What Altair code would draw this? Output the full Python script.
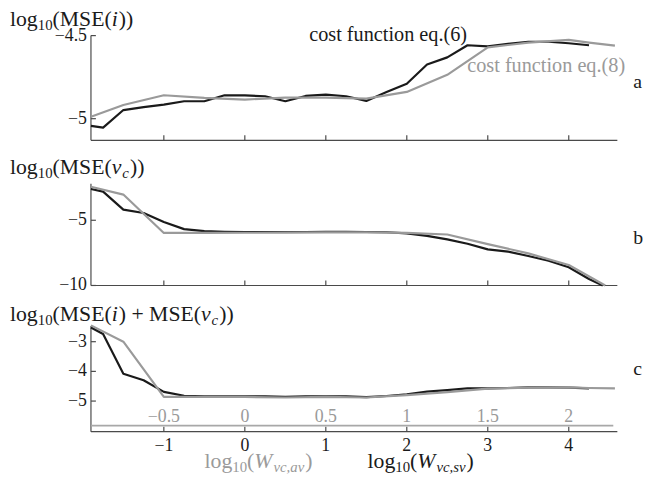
import altair as alt
import pandas as pd

FONT = "Liberation Serif"
BLACK = "#1a1a1a"
GRAY = "#9a9a9a"
AXIS = "#4a4a4a"

# ---------------- data ----------------
X_LO, X_HI = -1.9, 4.6

X_BLACK = [-1.9, -1.75, -1.5, -1.25, -1.0, -0.75, -0.5, -0.25, 0.0, 0.25, 0.5, 0.75, 1.0,
           1.25, 1.5, 1.75, 2.0, 2.25, 2.5, 2.75, 3.0, 3.25, 3.5, 3.75, 4.0, 4.25]
X_GRAY = [-1.9, -1.5, -1.0, -0.5, 0.0, 0.5, 1.0, 1.5, 2.0, 2.5, 3.0, 3.5, 4.0, 4.25, 4.57]
X_BLACK_B = X_BLACK + [4.42]
X_GRAY_B = [-1.9, -1.5, -1.0, -0.5, 0.0, 0.5, 1.0, 1.5, 2.0, 2.5, 3.0, 3.5, 4.0, 4.45]

# panel a: log10(MSE(i))
A_BLACK = [-5.043, -5.054, -4.948, -4.930, -4.915, -4.895, -4.895, -4.859, -4.860, -4.865,
           -4.895, -4.863, -4.855, -4.865, -4.893, -4.840, -4.790, -4.674, -4.631, -4.558,
           -4.565, -4.550, -4.537, -4.537, -4.546, -4.558]
A_GRAY = [-4.988, -4.918, -4.859, -4.875, -4.885, -4.873, -4.873, -4.879, -4.839, -4.736,
          -4.571, -4.542, -4.526, -4.542, -4.560]

# panel b: log10(MSE(vc))
B_BLACK = [-2.60, -2.80, -4.18, -4.44, -5.13, -5.68, -5.83, -5.88, -5.90, -5.90, -5.90,
           -5.90, -5.88, -5.88, -5.90, -5.92, -6.00, -6.20, -6.47, -6.80, -7.23, -7.40,
           -7.74, -8.10, -8.60, -9.50, -10.0]
B_GRAY = [-2.43, -3.03, -5.97, -5.97, -5.96, -5.95, -5.93, -5.93, -5.97, -6.09, -6.83,
          -7.54, -8.43, -10.0]

# panel c: log10(MSE(i) + MSE(vc))
C_BLACK = [-2.52, -2.74, -4.08, -4.30, -4.69, -4.82, -4.84, -4.84, -4.84, -4.84, -4.86,
           -4.84, -4.84, -4.84, -4.87, -4.83, -4.77, -4.68, -4.63, -4.57, -4.57, -4.56,
           -4.54, -4.54, -4.55, -4.57]
C_GRAY = [-2.45, -3.00, -4.86, -4.86, -4.86, -4.88, -4.86, -4.88, -4.80, -4.70, -4.58,
          -4.55, -4.54, -4.56, -4.57]

TICKS_SV = [-1, 0, 1, 2, 3, 4]
TICKS_AV = [-0.5, 0, 0.5, 1, 1.5, 2]
YT_A = [-5, -4.5]
YT_B = [-10, -5]
YT_C = [-5, -4, -3]

# ---------------- layout ----------------
W, H = 533, 401
XS = alt.Scale(domain=[X_LO, X_HI], nice=False, zero=False)

PANELS = {
    "a": dict(dom=[-5.13, -4.5], rng=[106, 0], top=-4.5),
    "b": dict(dom=[-10.0, -2.2], rng=[253, 150], top=-2.2),
    "c": dict(dom=[-6.03, -2.47], rng=[401, 294], top=-2.47),
}

REG = {'l': 278, 'o': 500, 'g': 500, '(': 333, ')': 333, 'M': 889, 'S': 556, 'E': 611,
       '+': 564, ' ': 250, '0': 500, '1': 500}
ITA = {'i': 278, 'v': 444, 'c': 444, 'W': 833, 'a': 500, 's': 389, ',': 250}


def twidth(s, size, ital):
    tab = ITA if ital else REG
    return sum(tab.get(ch, 500) for ch in s) * size / 1000.0


def rich(segs, x0, y0, color):
    out = []
    x = x0
    for txt, size, ital, dy in segs:
        out.append(
            alt.Chart(pd.DataFrame({"t": [txt]}))
            .mark_text(align="left", baseline="alphabetic", font=FONT, fontSize=size,
                       fontStyle="italic" if ital else "normal", color=color)
            .encode(x=alt.value(x), y=alt.value(y0 + dy), text="t:N")
        )
        x += twidth(txt, size, ital) + (1.0 if ital else 0.0)
    return out


def fmt(v):
    return f"{v:g}".replace("-", "\u2212")


def yscale(p):
    return alt.Scale(domain=p["dom"], range=p["rng"], nice=False, zero=False)


def line(xs, ys, p, color, width):
    df = pd.DataFrame({"x": xs, "y": ys})
    return alt.Chart(df).mark_line(color=color, strokeWidth=width, strokeJoin="round").encode(
        x=alt.X("x:Q", scale=XS, axis=None),
        y=alt.Y("y:Q", scale=yscale(p), axis=None),
    )


def frame(p, yticks):
    ys = yscale(p)
    bottom_px = p["rng"][0]
    layers = []
    # y axis line
    layers.append(
        alt.Chart(pd.DataFrame({"lo": [p["dom"][0]], "hi": [p["top"]]}))
        .mark_rule(color=AXIS, strokeWidth=1.2)
        .encode(x=alt.value(0), y=alt.Y("lo:Q", scale=ys, axis=None), y2="hi:Q")
    )
    # x axis line
    layers.append(
        alt.Chart(pd.DataFrame({"xlo": [X_LO], "xhi": [X_HI], "lo": [p["dom"][0]]}))
        .mark_rule(color=AXIS, strokeWidth=1.2)
        .encode(x=alt.X("xlo:Q", scale=XS, axis=None), x2="xhi:Q",
                y=alt.Y("lo:Q", scale=ys, axis=None))
    )
    # x ticks (inward)
    layers.append(
        alt.Chart(pd.DataFrame({"t": TICKS_SV}))
        .mark_rule(color=AXIS, strokeWidth=1.2)
        .encode(x=alt.X("t:Q", scale=XS, axis=None),
                y=alt.value(bottom_px), y2=alt.value(bottom_px - 5))
    )
    # y ticks (inward)
    layers.append(
        alt.Chart(pd.DataFrame({"v": yticks}))
        .mark_rule(color=AXIS, strokeWidth=1.2)
        .encode(x=alt.value(0), x2=alt.value(5), y=alt.Y("v:Q", scale=ys, axis=None))
    )
    # y tick labels
    layers.append(
        alt.Chart(pd.DataFrame({"v": yticks, "lab": [fmt(v) for v in yticks]}))
        .mark_text(align="right", baseline="middle", font=FONT, fontSize=18, color=BLACK)
        .encode(x=alt.value(-4), y=alt.Y("v:Q", scale=ys, axis=None), text="lab:N")
    )
    return layers


layers = []
for key, bx, by, gx, gy, yt in [
    ("a", X_BLACK, A_BLACK, X_GRAY, A_GRAY, YT_A),
    ("b", X_BLACK_B, B_BLACK, X_GRAY_B, B_GRAY, YT_B),
    ("c", X_BLACK, C_BLACK, X_GRAY, C_GRAY, YT_C),
]:
    p = PANELS[key]
    layers += frame(p, yt)
    layers.append(line(bx, by, p, BLACK, 2.2))
    layers.append(line(gx, gy, p, GRAY, 2.2))

# secondary (gray) x axis in panel c: log10(W_vc,av) = log10(W_vc,sv) / 2
layers.append(
    alt.Chart(pd.DataFrame({"xlo": [X_LO], "xhi": [4.55]}))
    .mark_rule(color="#a8a8a8", strokeWidth=1.8)
    .encode(x=alt.X("xlo:Q", scale=XS, axis=None), x2="xhi:Q", y=alt.value(395))
)
layers.append(
    alt.Chart(pd.DataFrame({"pos": [2 * a for a in TICKS_AV], "lab": [fmt(a) for a in TICKS_AV]}))
    .mark_text(align="center", baseline="alphabetic", font=FONT, fontSize=18, color=GRAY)
    .encode(x=alt.X("pos:Q", scale=XS, axis=None), y=alt.value(391), text="lab:N")
)
# black x tick labels
layers.append(
    alt.Chart(pd.DataFrame({"t": TICKS_SV, "lab": [fmt(t) for t in TICKS_SV]}))
    .mark_text(align="center", baseline="alphabetic", font=FONT, fontSize=18, color=BLACK)
    .encode(x=alt.X("t:Q", scale=XS, axis=None), y=alt.value(421), text="lab:N")
)

# titles
T, S = 22, 15
layers += rich([("log", T, False, 0), ("10", S, False, 4), ("(MSE(", T, False, 0),
                ("i", T, True, 0), ("))", T, False, 0)], -82, -10, BLACK)
layers += rich([("log", T, False, 0), ("10", S, False, 4), ("(MSE(", T, False, 0),
                ("v", T, True, 0), ("c", S, True, 4), ("))", T, False, 0)], -82, 140, BLACK)
layers += rich([("log", T, False, 0), ("10", S, False, 4), ("(MSE(", T, False, 0),
                ("i", T, True, 0), (") + MSE(", T, False, 0), ("v", T, True, 0),
                ("c", S, True, 4), ("))", T, False, 0)], -82, 289, BLACK)

# x-axis titles
layers += rich([("log", T, False, 0), ("10", S, False, 4), ("(", T, False, 0),
                ("W", T, True, 0), ("vc,av", S, True, 4), (")", T, False, 0)], 115, 438, GRAY)
layers += rich([("log", T, False, 0), ("10", S, False, 4), ("(", T, False, 0),
                ("W", T, True, 0), ("vc,sv", S, True, 4), (")", T, False, 0)], 280, 438, BLACK)

# annotations & panel letters
layers += rich([("cost function eq.(6)", 20.5, False, 0)], 221, 5, BLACK)
layers += rich([("cost function eq.(8)", 20.5, False, 0)], 381, 37, GRAY)
layers += rich([("a", 20, False, 0)], 549, 53, BLACK)
layers += rich([("b", 20, False, 0)], 549, 211, BLACK)
layers += rich([("c", 20, False, 0)], 549, 344, BLACK)

chart = (
    alt.layer(*layers)
    .resolve_scale(y="independent")
    .properties(
        width=W,
        height=H,
        autosize=alt.AutoSizeParams(type="none"),
        padding={"left": 84, "top": 25, "right": 28, "bottom": 45},
    )
    .configure_view(stroke=None)
)

chart.save("out.html", embed_options={"renderer": "svg", "actions": False})
